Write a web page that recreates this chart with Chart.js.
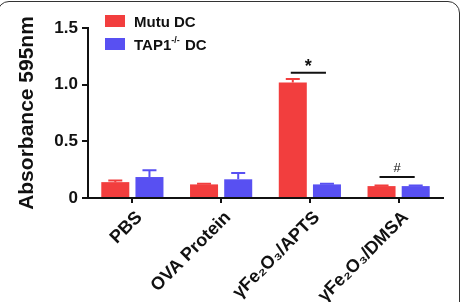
<!DOCTYPE html>
<html>
<head>
<meta charset="utf-8">
<script src="https://cdn.jsdelivr.net/npm/chart.js@4.4.1/dist/chart.umd.min.js"></script>
<style>
  html, body { margin: 0; padding: 0; background: #fff; }
  #wrap { position: relative; width: 465px; height: 302px; overflow: hidden; }
  #frame {
    position: absolute; left: -3px; top: 1px; width: 463px; height: 330px;
    border: 1.5px solid #333; border-radius: 12px; box-sizing: border-box;
  }
  canvas { position: absolute; left: 0; top: 0; }
</style>
</head>
<body>
<div id="wrap">
  <div id="frame"></div>
  <canvas id="chart" width="465" height="302"></canvas>
</div>
<script>
const categories = ["PBS", "OVA Protein", "\u03b3Fe\u2082O\u2083/APTS", "\u03b3Fe\u2082O\u2083/DMSA"];
const mutuValues = [0.14, 0.12, 1.02, 0.105];
const mutuErrors = [0.015, 0.005, 0.03, 0.005];
const tapValues = [0.185, 0.165, 0.12, 0.105];
const tapErrors = [0.06, 0.055, 0.005, 0.005];
const yTicks = [0, 0.5, 1.0, 1.5];
const sigMarks = ["", "", "*", "#"];
const sigLevels = [null, null, 1.105, 0.185];

const RED = "rgb(242,62,62)";
const BLUE = "rgb(88,80,242)";
const FONT = "'Liberation Sans', Arial, sans-serif";

// error bars on top of each bar (one-sided, like the figure)
const errorBars = {
  id: "errorBars",
  afterDatasetsDraw(chart) {
    const ctx = chart.ctx;
    const y = chart.scales.y;
    chart.data.datasets.forEach((ds, i) => {
      const meta = chart.getDatasetMeta(i);
      meta.data.forEach((bar, j) => {
        const top = y.getPixelForValue(ds.data[j] + ds.errors[j]);
        ctx.save();
        ctx.strokeStyle = ds.backgroundColor;
        ctx.lineWidth = 2;
        ctx.beginPath();
        ctx.moveTo(bar.x, bar.y);
        ctx.lineTo(bar.x, top);
        ctx.moveTo(bar.x - 7, top);
        ctx.lineTo(bar.x + 7, top);
        ctx.stroke();
        ctx.restore();
      });
    });
  }
};

// significance lines with their marks
const sigPlugin = {
  id: "sig",
  afterDatasetsDraw(chart) {
    const ctx = chart.ctx;
    const y = chart.scales.y;
    const m0 = chart.getDatasetMeta(0);
    const m1 = chart.getDatasetMeta(1);
    sigMarks.forEach((mark, j) => {
      if (!mark) return;
      const py = y.getPixelForValue(sigLevels[j]);
      const x0 = m0.data[j].x - 2;
      const x1 = m1.data[j].x - 1;
      ctx.save();
      ctx.strokeStyle = "#111";
      ctx.lineWidth = 2;
      ctx.beginPath();
      ctx.moveTo(x0, py);
      ctx.lineTo(x1, py);
      ctx.stroke();
      ctx.fillStyle = "#111";
      ctx.textAlign = "center";
      ctx.textBaseline = "alphabetic";
      ctx.font = mark === "*" ? "bold 18px " + FONT : "13px " + FONT;
      ctx.fillText(mark, (x0 + x1) / 2, mark === "*" ? py - 1 : py - 5);
      ctx.restore();
    });
  }
};

// legend drawn by hand so the superscript in TAP1-/- can be shown
const legendPlugin = {
  id: "customLegend",
  afterDraw(chart) {
    const ctx = chart.ctx;
    const items = [
      { color: RED, parts: [["Mutu DC", 0]] },
      { color: BLUE, parts: [["TAP1", 0], ["-/-", 1], [" DC", 0]] }
    ];
    ctx.save();
    items.forEach((it, i) => {
      const top = 15 + i * 23;
      ctx.fillStyle = it.color;
      ctx.fillRect(105, top, 20, 12);
      let x = 134;
      ctx.fillStyle = "#111";
      ctx.textBaseline = "alphabetic";
      it.parts.forEach(([txt, sup]) => {
        ctx.font = sup ? "bold 9px " + FONT : "bold 15px " + FONT;
        ctx.fillText(txt, x, sup ? top + 5 : top + 12);
        x += ctx.measureText(txt).width + (sup ? 1 : 0);
      });
    });
    ctx.restore();
  }
};

new Chart(document.getElementById("chart"), {
  type: "bar",
  data: {
    labels: categories,
    datasets: [
      { label: "Mutu DC", data: mutuValues, errors: mutuErrors, backgroundColor: RED },
      { label: "TAP1-/- DC", data: tapValues, errors: tapErrors, backgroundColor: BLUE }
    ]
  },
  options: {
    responsive: false,
    animation: false,
    categoryPercentage: 0.77,
    barPercentage: 0.82,
    layout: { padding: { top: 28, right: 22, left: 0, bottom: 0 } },
    plugins: { legend: { display: false }, tooltip: { enabled: false } },
    scales: {
      x: {
        grid: { offset: false, drawOnChartArea: false, drawTicks: true, tickLength: 5, color: "#111", lineWidth: 2 },
        border: { color: "#111", width: 2 },
        ticks: {
          color: "#111",
          font: { family: FONT, size: 18, weight: "bold" },
          maxRotation: 45,
          minRotation: 45,
          padding: 4,
          labelOffset: 7,
          autoSkip: false
        },
        afterFit(scale) { scale.height = 104; }
      },
      y: {
        min: 0,
        max: 1.5,
        afterBuildTicks(scale) { scale.ticks = yTicks.map(v => ({ value: v })); },
        grid: { drawOnChartArea: false, drawTicks: true, tickLength: 6, color: "#111", lineWidth: 2 },
        border: { color: "#111", width: 2 },
        ticks: {
          color: "#111",
          padding: 4,
          font: { family: FONT, size: 17, weight: "bold" },
          callback: v => (v === 0 ? "0" : v.toFixed(1))
        },
        title: {
          display: true,
          text: "Absorbance 595nm",
          color: "#111",
          font: { family: FONT, size: 21, weight: "bold" },
          padding: { top: 15, bottom: 0 }
        },
        afterFit(scale) { scale.width = 88; }
      }
    }
  },
  plugins: [errorBars, sigPlugin, legendPlugin]
});
</script>
</body>
</html>
